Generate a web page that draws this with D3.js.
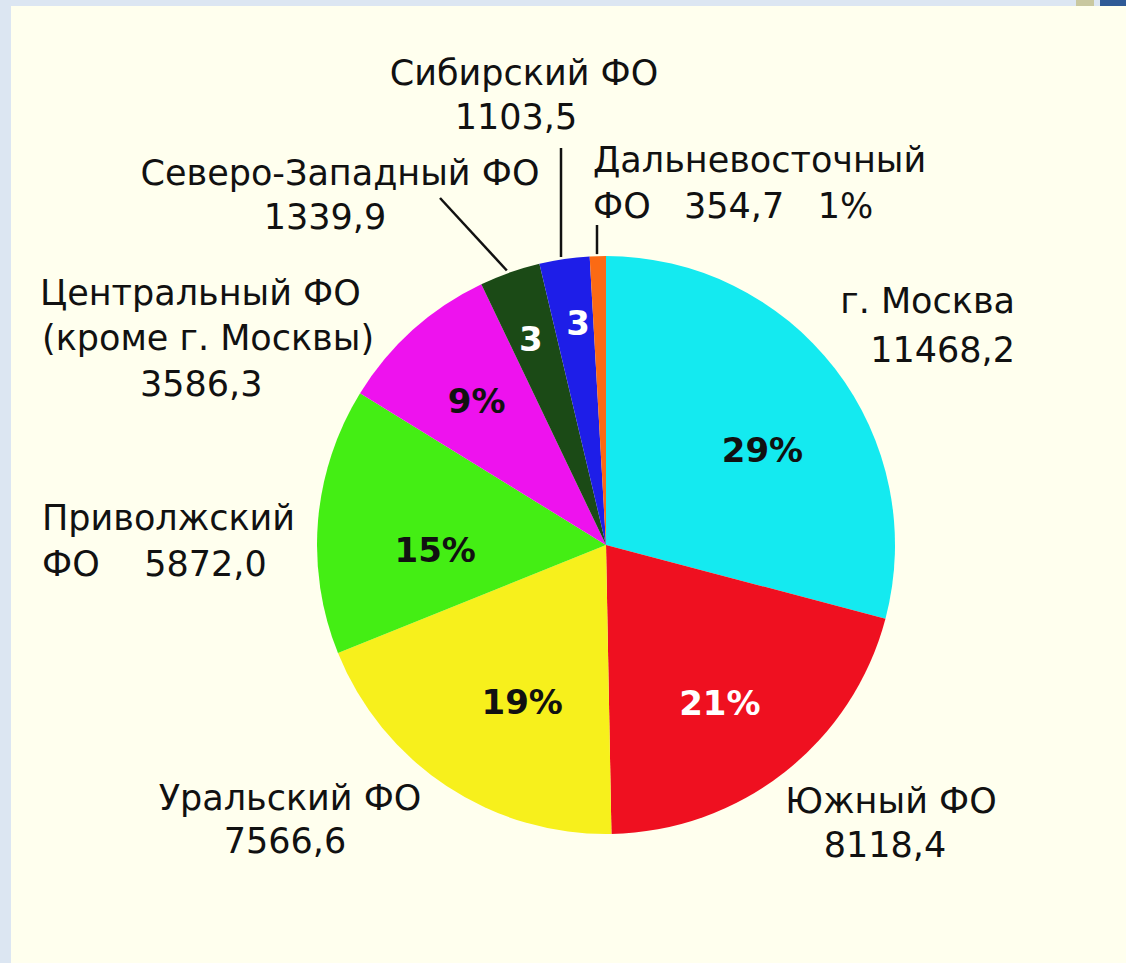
<!DOCTYPE html>
<html>
<head>
<meta charset="utf-8">
<script src="https://cdn.jsdelivr.net/npm/d3@7"></script>
<style>
  html, body { margin: 0; padding: 0; background: #dce6f2; }
  svg { display: block; }
  text { font-family: "DejaVu Sans", sans-serif; }
</style>
</head>
<body>
<script>
// Federal districts, clockwise from 12 o'clock
const districts = ["г. Москва", "Южный ФО", "Уральский ФО", "Приволжский ФО",
  "Центральный ФО (кроме г. Москвы)", "Северо-Западный ФО", "Сибирский ФО", "Дальневосточный ФО"];
const values = [11468.2, 8118.4, 7566.6, 5872.0, 3586.3, 1339.9, 1103.5, 354.7];
const valueLabels = ["11468,2", "8118,4", "7566,6", "5872,0", "3586,3", "1339,9", "1103,5", "354,7"];
const pctLabels = ["29%", "21%", "19%", "15%", "9%", "3", "3", "1%"];

const colors = ["#14eaf0", "#ef1020", "#f7f01c", "#44ee14", "#ee12ee", "#1b4a16", "#1e1ee8", "#fb6a14"];
const pctColors = ["#111", "#fff", "#111", "#111", "#111", "#fff", "#fff", "#111"];

const W = 1126, H = 963;
const cx = 606, cy = 545, R = 289;

const svg = d3.select("body").append("svg").attr("width", W).attr("height", H);

// slide frame
svg.append("rect").attr("width", W).attr("height", H).attr("fill", "#dce6f2");
svg.append("rect").attr("x", 11).attr("y", 6).attr("width", W - 11).attr("height", H - 6).attr("fill", "#ffffee");
svg.append("rect").attr("x", 1100).attr("y", 0).attr("width", 26).attr("height", 6).attr("fill", "#2f5a96");
svg.append("rect").attr("x", 1076).attr("y", 0).attr("width", 18).attr("height", 6).attr("fill", "#c9c8a0");

const pie = d3.pie().sort(null).value(d => d);
const arcs = pie(values);
const arc = d3.arc().innerRadius(0).outerRadius(R);

const g = svg.append("g").attr("transform", `translate(${cx},${cy})`);
g.selectAll("path.slice").data(arcs).join("path")
  .attr("class", "slice")
  .attr("d", arc)
  .attr("fill", (d, i) => colors[i]);

// percentage labels inside slices
const inner = [
  { r: 0.64, dx: 10, dy: 30 },
  { r: 0.66, dx: -4, dy: 20 },
  { r: 0.62, dx: 15, dy: 20 },
  { r: 0.60, dx: 2, dy: 32 },
  { r: 0.67, dx: 0, dy: 12 },
  { r: 0.72, dx: -6, dy: 2 },
  { r: 0.77, dx: 4, dy: 10 }
];
inner.forEach((p, i) => {
  const c = d3.arc().innerRadius(R * p.r).outerRadius(R * p.r).centroid(arcs[i]);
  g.append("text")
    .attr("x", c[0] + p.dx).attr("y", c[1] + p.dy)
    .attr("text-anchor", "middle")
    .attr("font-size", 34).attr("font-weight", "bold")
    .attr("fill", pctColors[i])
    .text(pctLabels[i]);
});

// leader lines for the thin slices
const leaders = [
  { i: 5, x: 440, y: 198 },
  { i: 6, x: 561, y: 148 },
  { i: 7, x: 597, y: 225 }
];
leaders.forEach(l => {
  const a = (arcs[l.i].startAngle + arcs[l.i].endAngle) / 2;
  const ex = cx + R * Math.sin(a), ey = cy - R * Math.cos(a);
  svg.append("line")
    .attr("x1", l.x).attr("y1", l.y)
    .attr("x2", l.i === 5 ? ex - 3 : l.x).attr("y2", ey - 2)
    .attr("stroke", "#111").attr("stroke-width", 2.5);
});

// outside labels: lines of text per district
const fs = 35;
const outer = [
  { anchor: "end", lines: [[1015, 313, "г. Москва"], [1015, 362, valueLabels[0]]] },
  { anchor: "middle", lines: [[891, 813, "Южный ФО"], [885, 857, valueLabels[1]]] },
  { anchor: "middle", lines: [[290, 810, "Уральский ФО"], [285, 853, valueLabels[2]]] },
  { anchor: "start", lines: [[42, 530, "Приволжский"], [42, 576, "ФО\u00a0\u00a0\u00a0\u00a0" + valueLabels[3]]] },
  { anchor: "start", lines: [[40, 305, "Центральный ФО"], [42, 350, "(кроме г. Москвы)"], [140, 396, valueLabels[4]]] },
  { anchor: "middle", lines: [[340, 185, "Северо-Западный ФО"], [325, 229, valueLabels[5]]] },
  { anchor: "middle", lines: [[524, 85, "Сибирский ФО"], [516, 129, valueLabels[6]]] },
  { anchor: "start", lines: [[593, 172, "Дальневосточный"], [593, 218, "ФО\u00a0\u00a0\u00a0" + valueLabels[7] + "\u00a0\u00a0\u00a0" + pctLabels[7]]] }
];
outer.forEach(o => {
  o.lines.forEach(([x, y, t]) => {
    svg.append("text")
      .attr("x", x).attr("y", y)
      .attr("text-anchor", o.anchor)
      .attr("font-size", fs)
      .attr("fill", "#111")
      .text(t);
  });
});
</script>
</body>
</html>
